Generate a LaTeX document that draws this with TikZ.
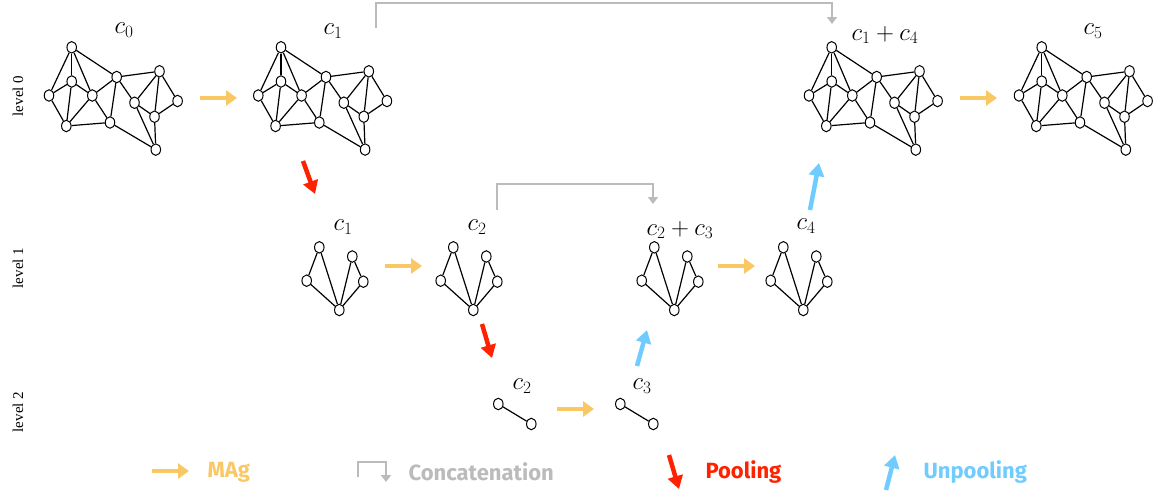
\documentclass[tikz,border=0pt]{standalone}
\usepackage{fontspec}
\setmainfont{Liberation Serif}
\newfontfamily\legendfont{Fira Sans}
\usetikzlibrary{arrows.meta,shapes.geometric}

\definecolor{magcol}{HTML}{F9C865}
\definecolor{poolcol}{HTML}{FF2200}
\definecolor{unpoolcol}{HTML}{70CCFF}
\definecolor{concatcol}{HTML}{BBBBBB}

\tikzset{
  vtx/.style={ellipse,draw,line width=1pt,fill=white,minimum width=9.5pt,minimum height=11.5pt,inner sep=0pt},
  edge/.style={line width=1.2pt},
  glabel/.style={font=\fontsize{25}{27}\selectfont},
  lvl/.style={rotate=90,font=\fontsize{15}{17}\selectfont},
  magarrow/.style={draw=magcol,line width=4.5pt,-{Triangle[length=11pt,width=15pt,fill=magcol]}},
  poolarrow/.style={draw=poolcol,line width=4.5pt,-{Triangle[length=13pt,width=15pt,fill=poolcol]}},
  unpoolarrow/.style={draw=unpoolcol,line width=4.5pt,-{Triangle[length=13pt,width=15pt,fill=unpoolcol]}},
  concatarrow/.style={draw=concatcol,line width=2pt,-{Triangle[length=7pt,width=10pt,fill=concatcol]}},
  legendtext/.style={font=\legendfont\bfseries\fontsize{22}{26}\selectfont,anchor=west}
}

% fine mesh (level 0): #1 = name prefix, #2 = horizontal offset
\newcommand\meshgraph[2]{%
  \begin{scope}[shift={(#2,0)}]
    \node[vtx] (#1A) at (71.7,47.3) {};
    \node[vtx] (#1B) at (71.7,81.5) {};
    \node[vtx] (#1C) at (49,95.5) {};
    \node[vtx] (#1D) at (92.3,95.5) {};
    \node[vtx] (#1E) at (66.3,126) {};
    \node[vtx] (#1F) at (116.7,77) {};
    \node[vtx] (#1G) at (110,122.5) {};
    \node[vtx] (#1H) at (134.5,102.7) {};
    \node[vtx] (#1I) at (159.5,71.3) {};
    \node[vtx] (#1J) at (177.6,101) {};
    \node[vtx] (#1K) at (154.5,116.7) {};
    \node[vtx] (#1L) at (155.8,149.6) {};
  \end{scope}
  \foreach \p/\q in {A/B,A/C,A/D,A/F,B/C,B/D,B/E,C/E,D/E,D/F,D/G,E/G,F/G,F/H,F/I,G/L,H/I,H/K,H/L,I/J,I/K,J/K,K/L}
    \draw[edge] (#1\p) -- (#1\q);
}

% coarse graph (level 1): #1 = name prefix, #2 = horizontal offset
\newcommand\coarsegraph[2]{%
  \begin{scope}[shift={(#2,0)}]
    \node[vtx] (#1a) at (319.3,247.3) {};
    \node[vtx] (#1b) at (306.7,280.7) {};
    \node[vtx] (#1c) at (339.3,310) {};
    \node[vtx] (#1d) at (352.3,256.5) {};
    \node[vtx] (#1e) at (363.3,281.7) {};
  \end{scope}
  \foreach \p/\q in {a/b,a/c,b/c,d/c,d/e,e/c}
    \draw[edge] (#1\p) -- (#1\q);
}

% coarsest graph (level 2): #1 = name prefix, #2 = horizontal offset
\newcommand\pairgraph[2]{%
  \begin{scope}[shift={(#2,0)}]
    \node[vtx] (#1a) at (498.3,404) {};
    \node[vtx] (#1b) at (531.3,424) {};
  \end{scope}
  \draw[edge] (#1a) -- (#1b);
}

\begin{document}
\begin{tikzpicture}[x=1pt,y=-1pt]
  \fill[white] (0,0) rectangle (1156,493);
  \useasboundingbox (0,0) rectangle (1156,493);

  % level captions
  \node[lvl] (lv0) at (18,96) {level 0};
  \node[lvl] (lv1) at (18,268) {level 1};
  \node[lvl] (lv2) at (18,412) {level 2};

  % level 0
  \meshgraph{g0}{0}
  \meshgraph{g1}{209.3}
  \meshgraph{g14}{760}
  \meshgraph{g5}{970}
  \node[glabel] (l0) at (124,30) {$c_0$};
  \node[glabel] (l1) at (333,31) {$c_1$};
  \node[glabel] (l14) at (885,35) {$c_1 + c_4$};
  \node[glabel] (l5) at (1093,31) {$c_5$};

  % level 1
  \coarsegraph{h1}{0}
  \coarsegraph{h2}{134}
  \coarsegraph{h23}{335}
  \coarsegraph{h4}{464}
  \node[glabel] (m1) at (343,227) {$c_1$};
  \node[glabel] (m2) at (477,227) {$c_2$};
  \node[glabel] (m23) at (680,230) {$c_2 + c_3$};
  \node[glabel] (m4) at (806,226) {$c_4$};

  % level 2
  \pairgraph{p2}{0}
  \pairgraph{p3}{122}
  \node[glabel] (n2) at (522,386) {$c_2$};
  \node[glabel] (n3) at (642,386) {$c_3$};

  % aggregation arrows
  \coordinate (ma1s) at (200,98);   \coordinate (ma1e) at (237,98);
  \coordinate (ma2s) at (960,98);   \coordinate (ma2e) at (997,98);
  \coordinate (ma3s) at (385,266);  \coordinate (ma3e) at (422,266);
  \coordinate (ma4s) at (718,266);  \coordinate (ma4e) at (755,266);
  \coordinate (ma5s) at (557,409);  \coordinate (ma5e) at (594,409);
  \foreach \s/\e in {ma1s/ma1e,ma2s/ma2e,ma3s/ma3e,ma4s/ma4e,ma5s/ma5e}
    \draw[magarrow] (\s) -- (\e);

  % pooling arrows
  \coordinate (po1s) at (303,161); \coordinate (po1e) at (315,194);
  \coordinate (po2s) at (482,324); \coordinate (po2e) at (492,358);
  \draw[poolarrow] (po1s) -- (po1e);
  \draw[poolarrow] (po2s) -- (po2e);

  % unpooling arrows
  \coordinate (up1s) at (637,366); \coordinate (up1e) at (647,330);
  \coordinate (up2s) at (810,210); \coordinate (up2e) at (819,163);
  \draw[unpoolarrow] (up1s) -- (up1e);
  \draw[unpoolarrow] (up2s) -- (up2e);

  % skip connections
  \coordinate (cc1s) at (376,28);  \coordinate (cc1e) at (832,24);
  \draw[concatarrow] (cc1s) -- (376,3) -| (cc1e);
  \coordinate (cc2s) at (497,210); \coordinate (cc2e) at (653,204);
  \draw[concatarrow] (cc2s) -- (497,184) -| (cc2e);

  % legend
  \coordinate (lg1s) at (152,471); \coordinate (lg1e) at (189,471);
  \draw[magarrow] (lg1s) -- (lg1e);
  \node[legendtext,text=magcol] (tmag) at (204,472) {MAg};

  \coordinate (lg2s) at (358,477); \coordinate (lg2e) at (386,482);
  \draw[concatarrow] (lg2s) -- (358,462) -| (lg2e);
  \node[legendtext,text=concatcol] (tcat) at (405,472) {Concatenation};

  \coordinate (lg3s) at (669,455); \coordinate (lg3e) at (679,489);
  \draw[poolarrow] (lg3s) -- (lg3e);
  \node[legendtext,text=poolcol] (tpool) at (702,472) {Pooling};

  \coordinate (lg4s) at (886,490); \coordinate (lg4e) at (895,455);
  \draw[unpoolarrow] (lg4s) -- (lg4e);
  \node[legendtext,text=unpoolcol] (tunpool) at (920,472) {Unpooling};
\end{tikzpicture}
\end{document}
